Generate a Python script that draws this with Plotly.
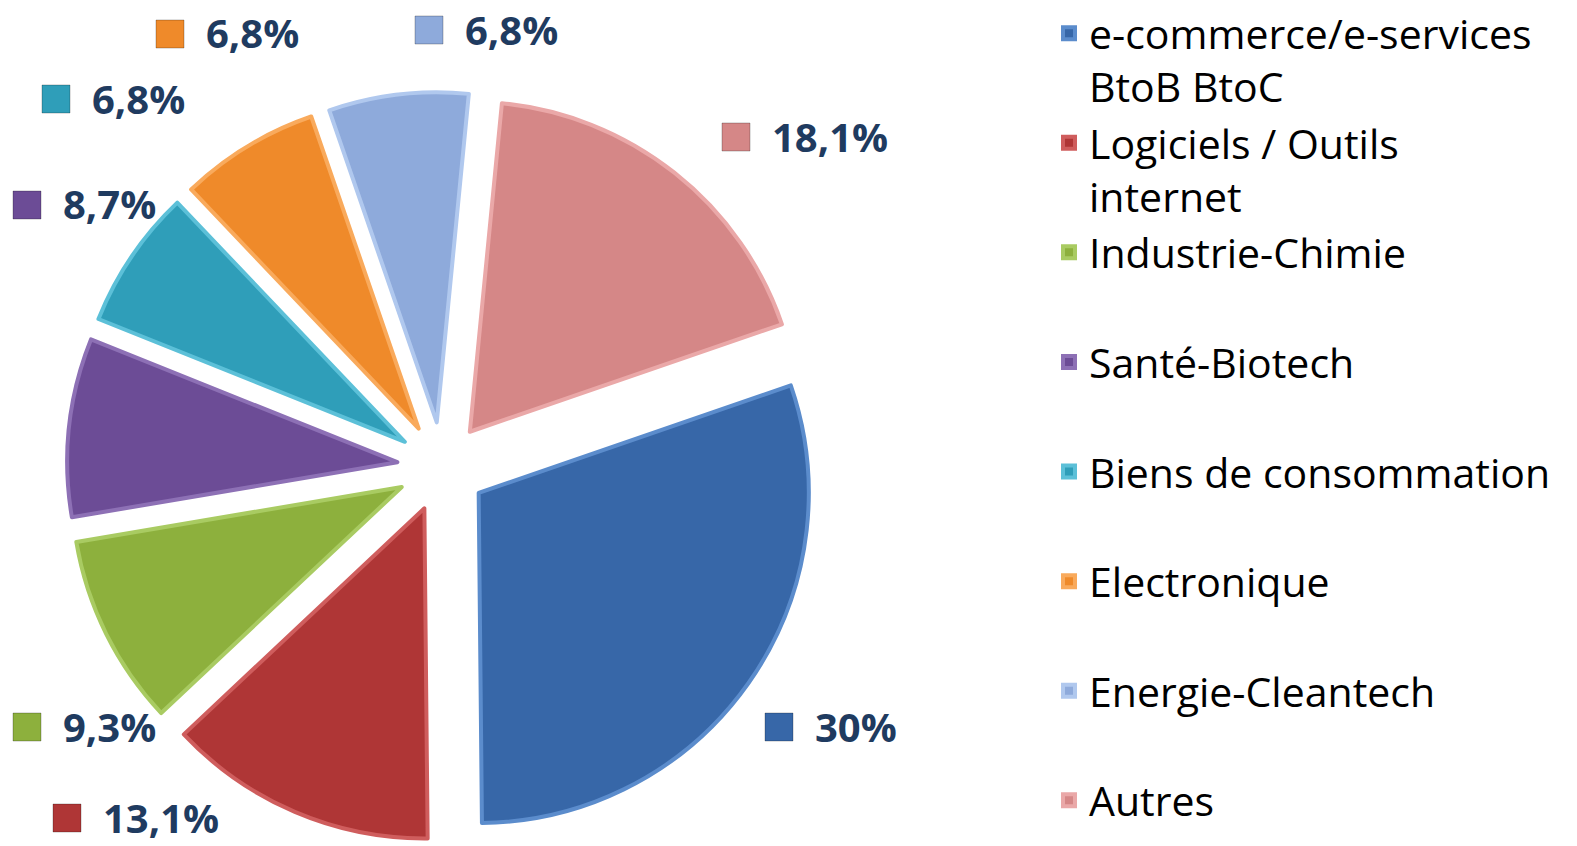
import plotly.graph_objects as go

W, H = 1577, 846

# ---- data ----
categories = [
    "e-commerce/e-services<br>BtoB BtoC",
    "Logiciels / Outils<br>internet",
    "Industrie-Chimie<br> ",
    "Santé-Biotech<br> ",
    "Biens de consommation<br> ",
    "Electronique<br> ",
    "Energie-Cleantech<br> ",
    "Autres",
]
values = [30, 13.1, 9.3, 8.7, 6.8, 6.8, 6.8, 18.1]

# ---- styles ----
colors = ["#3767a8", "#af3636", "#8db03d", "#6c4c96", "#2f9eb9", "#ef8a2a", "#8eaadb", "#d58787"]
edge_colors = ["#5b8ccc", "#cf5d5d", "#a9cb62", "#8d70b5", "#5cc0d8", "#f9aa5c", "#b0c8ee", "#eaa8a8"]
# square (left x, centre y) of each data label, in page pixels
label_anchor_px = [(765, 727), (53, 818), (13, 727), (13, 205), (42, 99), (156, 34), (415, 30), (722, 137)]

PIE_CX, PIE_CY, PIE_HALF = 442, 467, 375


def fmt(v):
    s = ("%g" % v).replace(".", ",")
    return s + "%"


fig = go.Figure()
fig.add_trace(go.Pie(
    labels=categories,
    values=values,
    sort=False,
    direction="clockwise",
    rotation=71,
    pull=[0.136] * len(values),
    marker=dict(colors=colors, line=dict(color=edge_colors, width=4)),
    textinfo="none",
    hoverinfo="label+percent",
    domain=dict(x=[(PIE_CX - PIE_HALF) / W, (PIE_CX + PIE_HALF) / W],
                y=[1 - (PIE_CY + PIE_HALF) / H, 1 - (PIE_CY - PIE_HALF) / H]),
))

annotations = []
shapes = []
for v, c, (px, py) in zip(values, colors, label_anchor_px):
    xp = px / W
    yp = 1 - py / H
    shapes.append(dict(
        type="rect", xref="paper", yref="paper",
        xsizemode="pixel", ysizemode="pixel",
        xanchor=xp, yanchor=yp,
        x0=0, x1=28, y0=-14, y1=14,
        fillcolor=c, line=dict(color="rgba(0,0,0,0.25)", width=1),
    ))
    annotations.append(dict(
        x=xp, y=yp, xref="paper", yref="paper",
        xanchor="left", yanchor="middle", xshift=48, yshift=1,
        text="<b>" + fmt(v) + "</b>", showarrow=False,
        font=dict(family="Open Sans", size=40, color="#1f3b60"),
    ))

fig.update_layout(
    width=W, height=H,
    margin=dict(l=0, r=0, t=0, b=0, pad=0, autoexpand=False),
    paper_bgcolor="white",
    plot_bgcolor="white",
    showlegend=True,
    legend=dict(
        x=1049 / W, xanchor="left",
        y=1.0, yanchor="top",
        valign="top",
        font=dict(family="Open Sans", size=41, color="black"),
        bgcolor="rgba(0,0,0,0)",
    ),
    annotations=annotations,
    shapes=shapes,
)

fig.write_html("out.html", config={"displayModeBar": False},
               post_script="document.body.style.margin='0px';")
